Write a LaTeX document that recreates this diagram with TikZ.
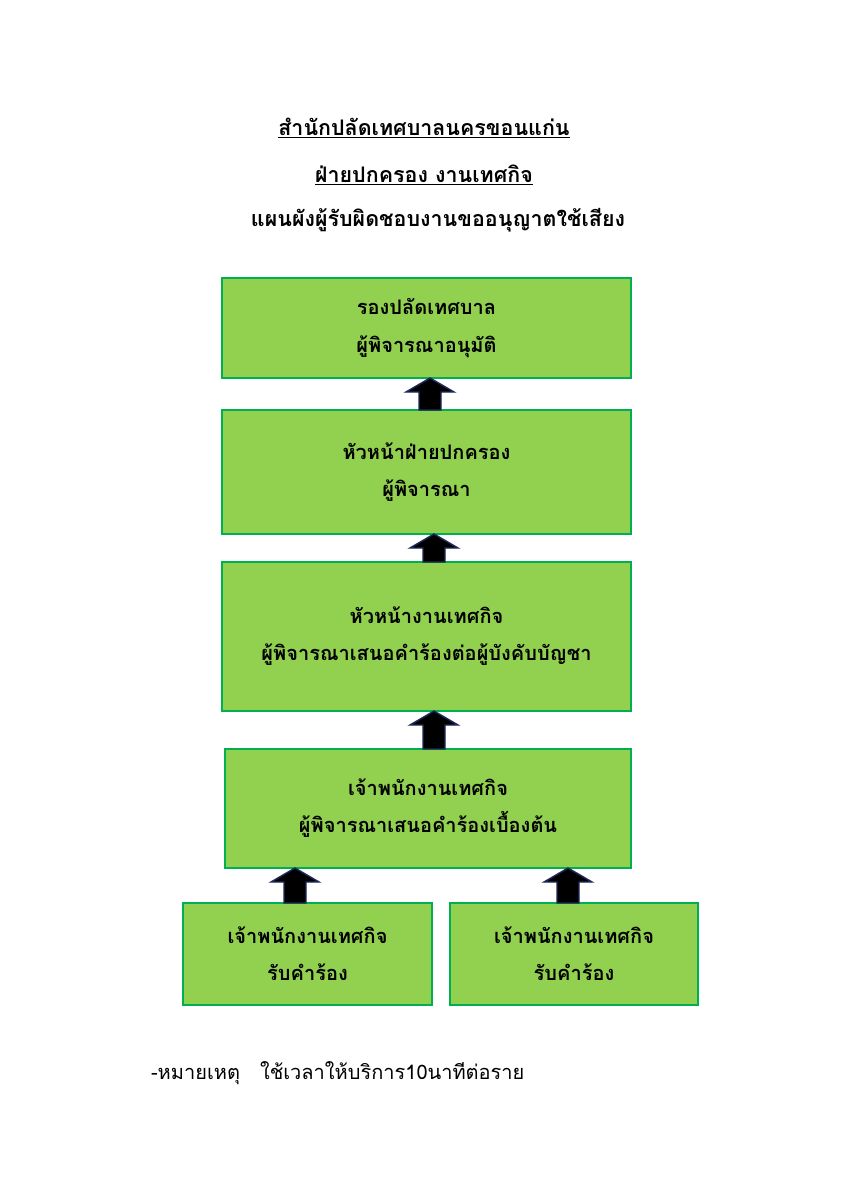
\documentclass[tikz,border=0pt]{standalone}
\usepackage{fontspec}
\newfontfamily\thaifont[Script=Thai]{Loma}
\usepackage{xcolor}
\definecolor{boxgreen}{HTML}{92D050}
\definecolor{boxline}{HTML}{00B050}
\definecolor{arrline}{HTML}{1F2A5C}
\tikzset{
  stage/.style={draw=boxline,fill=boxgreen,line width=1.5pt,align=center,
    font=\thaifont\bfseries\fontsize{14}{26}\selectfont},
  up/.style={draw=arrline,fill=black,line width=1pt,line join=miter}
}
\newcommand{\uparr}[3]{% x, bottom y, top y
  \draw[up] (#1-11,#2) -- (#1-11,{#3+14}) -- (#1-24,{#3+14}) -- (#1,#3)
    -- (#1+24,{#3+14}) -- (#1+11,{#3+14}) -- (#1+11,#2) -- cycle;}
\begin{document}
\begin{tikzpicture}[x=0.7pt,y=-0.7pt]
  \useasboundingbox (0,0) rectangle (849,1200);
  \node[font=\thaifont\bfseries\fontsize{15}{18}\selectfont] (t1) at (424,128) {\underline{สำนักปลัดเทศบาลนครขอนแก่น}};
  \node[font=\thaifont\bfseries\fontsize{15}{18}\selectfont] (t2) at (424,175) {\underline{ฝ่ายปกครอง งานเทศกิจ}};
  \node[font=\thaifont\bfseries\fontsize{15}{18}\selectfont] (t3) at (438,220) {แผนผังผู้รับผิดชอบงานขออนุญาตใช้เสียง};

  \node[stage,minimum width=409*0.7pt,minimum height=100*0.7pt] (b1) at (426.5,328) {รองปลัดเทศบาล\\ผู้พิจารณาอนุมัติ};
  \node[stage,minimum width=409*0.7pt,minimum height=124*0.7pt] (b2) at (426.5,472) {หัวหน้าฝ่ายปกครอง\\ผู้พิจารณา};
  \node[stage,minimum width=409*0.7pt,minimum height=149*0.7pt] (b3) at (426.5,636.5) {หัวหน้างานเทศกิจ\\ผู้พิจารณาเสนอคำร้องต่อผู้บังคับบัญชา};
  \node[stage,minimum width=406*0.7pt,minimum height=119*0.7pt] (b4) at (428,808.5) {เจ้าพนักงานเทศกิจ\\ผู้พิจารณาเสนอคำร้องเบื้องต้น};
  \node[stage,minimum width=249*0.7pt,minimum height=102*0.7pt] (b5) at (307.5,954) {เจ้าพนักงานเทศกิจ\\รับคำร้อง};
  \node[stage,minimum width=248*0.7pt,minimum height=102*0.7pt] (b6) at (574,954) {เจ้าพนักงานเทศกิจ\\รับคำร้อง};

  \uparr{430}{410}{378}
  \uparr{434}{562}{534}
  \uparr{434}{749}{711}
  \uparr{295}{903}{868}
  \uparr{568}{903}{868}

  \node[anchor=west,font=\thaifont\fontsize{14}{17}\selectfont] (note) at (146,1073) {-หมายเหตุ\quad ใช้เวลาให้บริการ10นาทีต่อราย};
\end{tikzpicture}
\end{document}
